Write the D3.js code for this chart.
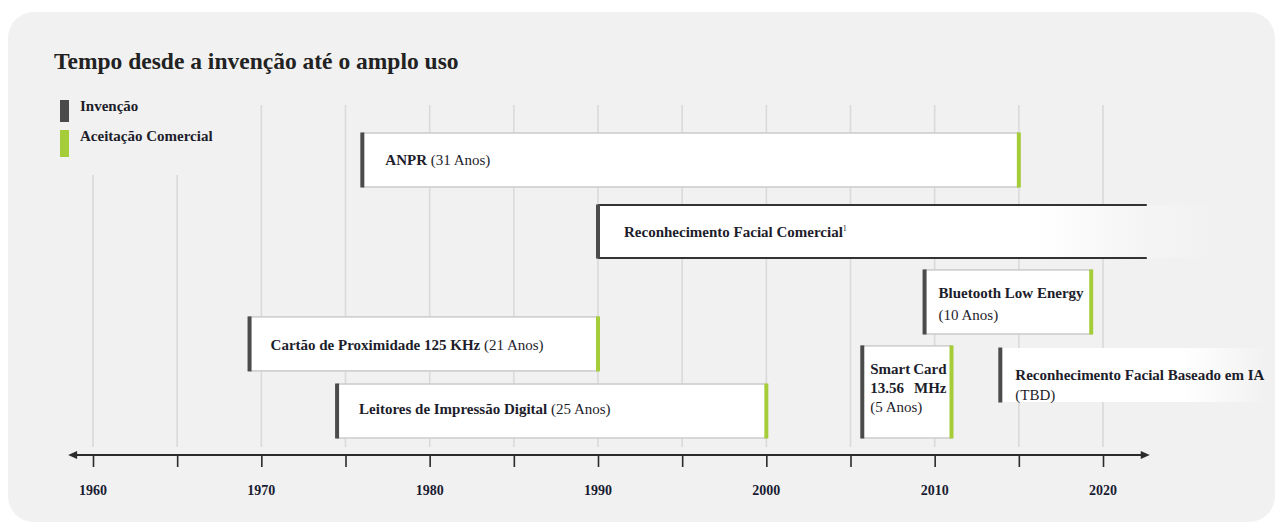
<!DOCTYPE html>
<html>
<head>
<meta charset="utf-8">
<script src="https://cdn.jsdelivr.net/npm/d3@7"></script>
<style>
  html, body { margin: 0; padding: 0; background: #ffffff; }
  svg { display: block; }
  text { font-family: "Liberation Serif", "DejaVu Serif", serif; fill: #1d1d2b; }
</style>
</head>
<body>
<svg id="chart" width="1278" height="526"></svg>
<script>
// ---------------- DATA ----------------
const title = "Tempo desde a invenção até o amplo uso";
const legendLabels = ["Invenção", "Aceitação Comercial"];
const technologies = [
  "ANPR",
  "Reconhecimento Facial Comercial",
  "Bluetooth Low Energy",
  "Cartão de Proximidade 125 KHz",
  "Smart Card 13.56 MHz",
  "Reconhecimento Facial Baseado em IA",
  "Leitores de Impressão Digital"
];
const durations = ["(31 Anos)", "", "(10 Anos)", "(21 Anos)", "(5 Anos)", "(TBD)", "(25 Anos)"];
const inventionYear = [1976, 1990, 2009.4, 1969.3, 2005.7, 2013.9, 1974.5];
const acceptanceYear = [2015, null, 2019.3, 1990, 2011, null, 2000];
const tickYears = [1960, 1965, 1970, 1975, 1980, 1985, 1990, 1995, 2000, 2005, 2010, 2015, 2020];
const tickLabels = ["1960", "", "1970", "", "1980", "", "1990", "", "2000", "", "2010", "", "2020"];

// ---------------- LAYOUT ----------------
const W = 1278, H = 526;
const svg = d3.select("#chart");
const x = d3.scaleLinear().domain([1960, 2020]).range([93, 1103]);
const axisY = 455;
const axisStart = 1958.7, axisEnd = 2022.6;
// row layout (lane units -> px through a linear scale)
const y = d3.scaleLinear().domain([0, 100]).range([133, 438]);
const rowTop = [0, 23.6, 44.9, 60.3, 69.8, 70.5, 82.3];
const rowBot = [17.7, 41, 65.9, 78, 100, 88.2, 100];
const fadeEnd = [null, 1225, null, null, null, 1268, null];

const C = {
  bg: "#f1f1f1", grid: "#dadada", inv: "#4b4b4b", acc: "#a5cc39",
  border: "#cbcbcb", axis: "#2b2b2b"
};
const FS = "15px";

// background panel
svg.append("rect").attr("x", 8).attr("y", 12).attr("width", 1267).attr("height", 510)
  .attr("rx", 26).attr("ry", 26).attr("fill", C.bg);

// defs: gradients
const defs = svg.append("defs");
function fadeGrad(id, stops) {
  const g = defs.append("linearGradient").attr("id", id)
    .attr("x1", "0").attr("x2", "1").attr("y1", "0").attr("y2", "0");
  stops.forEach(s => g.append("stop").attr("offset", s[0]).attr("stop-color", s[1]));
}
fadeGrad("fade1", [[0, "#ffffff"], [0.7, "#ffffff"], [0.88, "#f4f4f4"], [1, "#f1f1f1"]]);
fadeGrad("fade2", [[0, "#ffffff"], [0.68, "#ffffff"], [1, "#f1f1f1"]]);
const gradIds = [null, "fade1", null, null, null, "fade2", null];

// title
svg.append("text").attr("x", 54).attr("y", 69).text(title)
  .style("font-size", "23.5px").style("font-weight", "bold").style("fill", "#222");

// legend
const legColors = [C.inv, C.acc];
const legY = [[100, 122], [130, 157]];
legendLabels.forEach((l, i) => {
  svg.append("rect").attr("x", 60).attr("y", legY[i][0]).attr("width", 9)
    .attr("height", legY[i][1] - legY[i][0]).attr("fill", legColors[i]);
  svg.append("text").attr("x", 80).attr("y", legY[i][0] + 11).text(l)
    .style("font-size", FS).style("font-weight", "bold");
});

// grid lines
svg.append("g").selectAll("line").data(tickYears).join("line")
  .attr("x1", d => x(d)).attr("x2", d => x(d))
  .attr("y1", d => d < 1970 ? 175 : 105).attr("y2", 447)
  .attr("stroke", C.grid).attr("stroke-width", 1.6);

// axis
const axisG = svg.append("g").attr("transform", `translate(0,${axisY})`);
const axis = d3.axisBottom(x).tickValues(tickYears).tickSize(12).tickFormat("");
axisG.call(axis);
axisG.select(".domain").remove();
axisG.selectAll(".tick line").attr("stroke", C.axis).attr("stroke-width", 1.6);
axisG.append("line").attr("x1", x(axisStart)).attr("x2", x(axisEnd))
  .attr("y1", 0).attr("y2", 0).attr("stroke", C.axis).attr("stroke-width", 2.2);
axisG.append("path")
  .attr("d", `M${x(axisStart) - 3},0 L${x(axisStart) + 6},-4 L${x(axisStart) + 6},4 Z`)
  .attr("fill", C.axis);
axisG.append("path")
  .attr("d", `M${x(axisEnd) + 3},0 L${x(axisEnd) - 6},-4 L${x(axisEnd) - 6},4 Z`)
  .attr("fill", C.axis);
axisG.selectAll(".tlabel").data(tickYears).join("text").attr("class", "tlabel")
  .attr("x", d => x(d)).attr("y", 40).attr("text-anchor", "middle")
  .text((d, i) => tickLabels[i])
  .style("font-size", "14px").style("font-weight", "bold").style("fill", "#1a1c33");

// bars
const bars = svg.append("g");
technologies.forEach((name, i) => {
  const x0 = x(inventionYear[i]);
  const top = y(rowTop[i]), bot = y(rowBot[i]);
  const h = bot - top;
  const g = bars.append("g");
  if (acceptanceYear[i] !== null) {
    const x1 = x(acceptanceYear[i]);
    g.append("rect").attr("x", x0).attr("y", top).attr("width", x1 - x0).attr("height", h)
      .attr("fill", "#fff").attr("stroke", C.border).attr("stroke-width", 1.5);
    g.append("rect").attr("x", x1 - 2).attr("y", top - 0.5).attr("width", 4).attr("height", h + 1)
      .attr("fill", C.acc);
  } else {
    const x1 = fadeEnd[i];
    g.append("rect").attr("x", x0).attr("y", top).attr("width", x1 - x0).attr("height", h)
      .attr("fill", `url(#${gradIds[i]})`);
    if (i === 1) {
      [top, bot].forEach(yy => g.append("line").attr("x1", x0).attr("x2", x(axisEnd))
        .attr("y1", yy).attr("y2", yy).attr("stroke", "#333").attr("stroke-width", 2));
    }
  }
  g.append("rect").attr("x", x0 - 2).attr("y", top - 0.5).attr("width", 4).attr("height", h + 1)
    .attr("fill", C.inv);
});

// labels
function label(i, dx, lines) {
  const x0 = x(inventionYear[i]) + dx;
  lines.forEach(l => {
    const t = bars.append("text").attr("x", x0).attr("y", l.y).style("font-size", FS);
    l.parts.forEach(p => {
      const ts = t.append("tspan").text(p.t).style("font-weight", p.b ? "bold" : "normal");
      if (p.sup) ts.attr("dy", -6).style("font-size", "8px");
    });
  });
}
const mid = i => (y(rowTop[i]) + y(rowBot[i])) / 2 + 5;
label(0, 23, [{ y: mid(0), parts: [{ t: technologies[0] + " ", b: true }, { t: durations[0] }] }]);
label(1, 26, [{ y: mid(1), parts: [{ t: technologies[1], b: true }, { t: "1", b: false, sup: true }] }]);
label(2, 14, [{ y: y(rowTop[2]) + 28, parts: [{ t: technologies[2], b: true }] },
              { y: y(rowTop[2]) + 50, parts: [{ t: durations[2] }] }]);
label(3, 21, [{ y: mid(3) + 1, parts: [{ t: technologies[3] + " ", b: true }, { t: durations[3] }] }]);
label(6, 22, [{ y: mid(6) - 2, parts: [{ t: technologies[6] + " ", b: true }, { t: durations[6] }] }]);
label(5, 15, [{ y: y(rowTop[5]) + 32, parts: [{ t: technologies[5], b: true }] },
              { y: y(rowTop[5]) + 52, parts: [{ t: durations[5] }] }]);

// Smart Card: justified words
(function () {
  const i = 4;
  const xl = x(inventionYear[i]) + 8, xr = x(acceptanceYear[i]) - 5;
  const words = technologies[i].split(" ");
  const t0 = y(rowTop[i]);
  [[words[0], words[1], 28], [words[2], words[3], 47]].forEach(([a, b, dy]) => {
    bars.append("text").attr("x", xl).attr("y", t0 + dy).text(a)
      .style("font-size", FS).style("font-weight", "bold");
    bars.append("text").attr("x", xr).attr("y", t0 + dy).attr("text-anchor", "end").text(b)
      .style("font-size", FS).style("font-weight", "bold");
  });
  bars.append("text").attr("x", xl).attr("y", t0 + 66).text(durations[i]).style("font-size", FS);
})();
</script>
</body>
</html>
